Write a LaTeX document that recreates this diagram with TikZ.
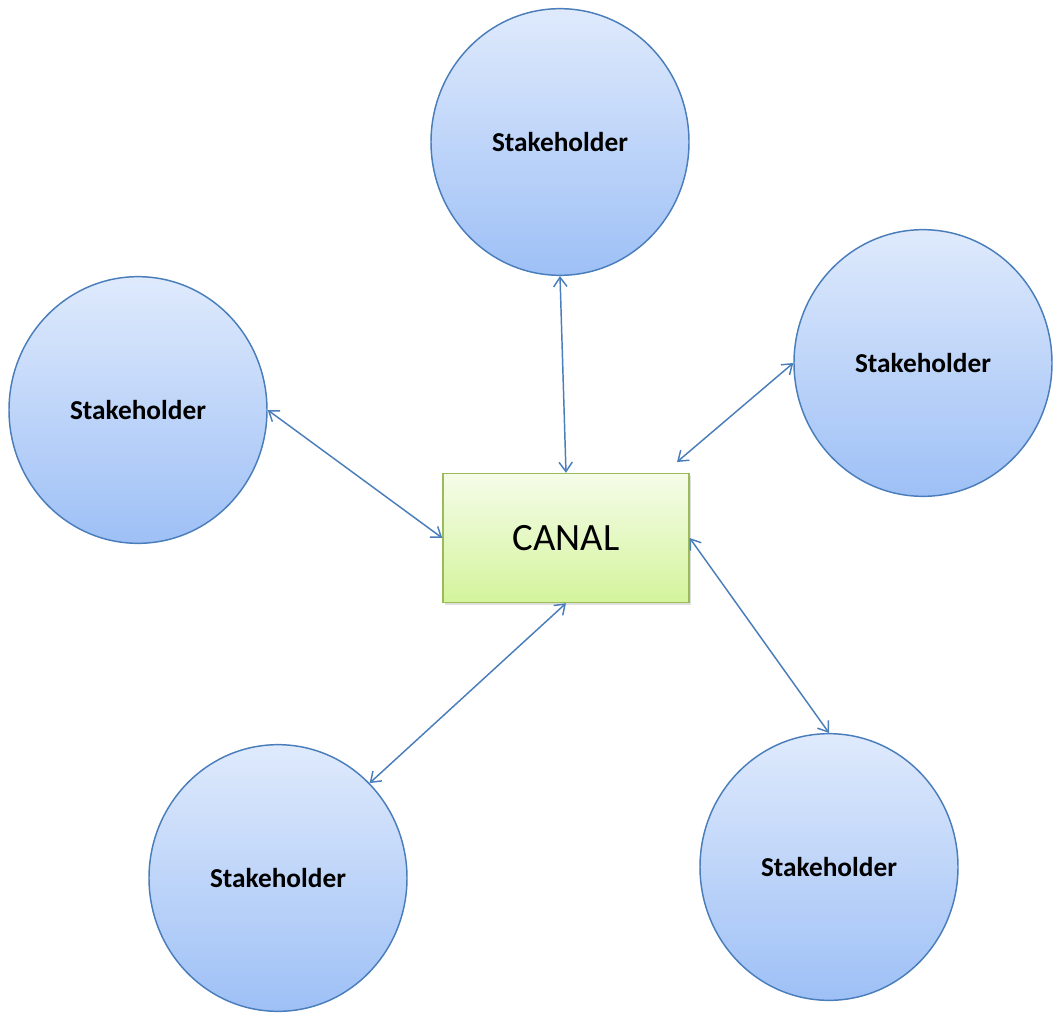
\documentclass[tikz,border=0pt]{standalone}
\usepackage{fontspec}
\setmainfont{Carlito}
\usetikzlibrary{shapes.geometric,arrows.meta,shadows}

\definecolor{holderline}{RGB}{74,126,187}
\definecolor{holdertop}{RGB}{223,234,252}
\definecolor{holderbottom}{RGB}{158,192,246}
\definecolor{canalline}{RGB}{155,187,89}
\definecolor{canaltop}{RGB}{245,252,233}
\definecolor{canalbottom}{RGB}{212,244,156}

\tikzset{
    holder/.style={ellipse, draw=holderline, line width=1.1pt, top color=holdertop, bottom color=holderbottom,
        minimum width=193.5pt, minimum height=200pt, inner sep=0pt, font=\bfseries\fontsize{20.5}{24}\selectfont},
    canalbox/.style={rectangle, draw=canalline, line width=1.1pt, top color=canaltop, bottom color=canalbottom,
        minimum width=184.5pt, minimum height=96.75pt, inner sep=0pt, font=\fontsize{29}{33}\selectfont,
        drop shadow={shadow xshift=1.2pt, shadow yshift=-1.5pt, opacity=0.25}},
    link/.style={holderline, line width=1.1pt, {Straight Barb[length=7pt,width=10pt]}-{Straight Barb[length=7pt,width=10pt]}}
}

\begin{document}
\begin{tikzpicture}[x=0.75pt,y=-0.75pt]
    \useasboundingbox (0,0) rectangle (1061,1025);
    % central channel
    \node[canalbox] (canal) at (566,538) {CANAL};
    % stakeholders
    \node[holder] (top) at (560,142) {Stakeholder};
    \node[holder] (left) at (138,410) {Stakeholder};
    \node[holder] (right) at (923,363) {Stakeholder};
    \node[holder] (botleft) at (278,878) {Stakeholder};
    \node[holder] (botright) at (829,867) {Stakeholder};
    \coordinate (rightend) at (677,462);
    % links
    \draw[link] (top.south) -- (canal.north);
    \draw[link] (left.east) -- (canal.west);
    \draw[link] (right.west) -- (rightend);
    \draw[link] (canal.east) -- (botright.north);
    \draw[link] (canal.south) -- (botleft.46);
\end{tikzpicture}
\end{document}
